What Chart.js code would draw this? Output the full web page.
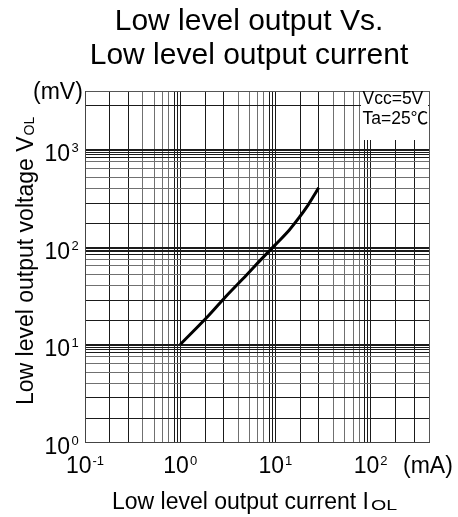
<!DOCTYPE html>
<html>
<head>
<meta charset="utf-8">
<script src="https://cdn.jsdelivr.net/npm/chart.js@4/dist/chart.umd.min.js"></script>
<style>
  html, body { margin: 0; padding: 0; background: #fff; }
  canvas { display: block; }
</style>
</head>
<body>
<canvas id="vol" width="458" height="517"></canvas>
<script>
// title and curve data
const titleLines = ['Low level output Vs.', 'Low level output current'];
const currentMA = [1, 2, 3, 5, 7, 10, 14, 18, 22, 25, 28.4];
const voltageMV = [10, 20, 31, 52, 74, 106, 150, 205, 270, 330, 406];

// axes
const xDecades = [-1, 0, 1, 2];
const yDecades = [0, 1, 2, 3];
const xMin = 0.1, xMax = 410;
const yMin = 1, yMax = 4000;

// the printed grid is not quite log spaced: position of each minor line inside a decade
const xGridFracs = [0.262, 0.457, 0.607, 0.726, 0.816, 0.879, 0.935, 0.97];
const yGridFracs = [0.245, 0.452, 0.602, 0.715, 0.81, 0.875, 0.92, 0.95, 0.97, 0.988];
const yTopFracs = [0.452];

const FONT = "'Liberation Sans', Arial, Helvetica, sans-serif";

function buildGrid(decades, fracs, lastFracs, max) {
  const out = [];
  decades.forEach((e, i) => {
    out.push({ value: Math.pow(10, e), color: '#1a1a1a' });
    const fs = (i === decades.length - 1 && lastFracs) ? lastFracs : fracs;
    fs.forEach((f, k) => {
      const v = Math.pow(10, e + f);
      if (v < max * 0.98) {
        out.push({ value: v, color: (k >= 2 && k <= 5) ? '#707070' : '#1a1a1a' });
      }
    });
  });
  out.push({ value: max, color: '#555' });
  return out;
}

const xGrid = buildGrid(xDecades, xGridFracs, null, xMax);
const yGrid = buildGrid(yDecades, yGridFracs, yTopFracs, yMax);

const textPlugin = {
  id: 'sheetText',
  beforeDatasetsDraw(chart) {
    // white box behind the conditions note
    const ctx = chart.ctx, a = chart.chartArea;
    ctx.save();
    ctx.fillStyle = '#fff';
    ctx.fillRect(361, a.top + 1, a.right - 361 - 1, 140 - a.top - 1);
    ctx.restore();
  },
  afterDraw(chart) {
    const ctx = chart.ctx;
    const xs = chart.scales.x, ys = chart.scales.y;
    ctx.save();
    ctx.fillStyle = '#000';
    ctx.textBaseline = 'alphabetic';

    // title
    ctx.textAlign = 'center';
    ctx.font = '30px ' + FONT;
    ctx.fillText(titleLines[0], 249, 30);
    ctx.fillText(titleLines[1], 249, 64);

    // x tick labels 10^n
    ctx.textAlign = 'left';
    xDecades.forEach(e => {
      const px = xs.getPixelForValue(Math.pow(10, e));
      ctx.font = '23px ' + FONT;
      const w1 = ctx.measureText('10').width;
      ctx.font = '13px ' + FONT;
      const w2 = ctx.measureText(String(e)).width;
      const start = px - (w1 + w2 + 1) / 2;
      ctx.font = '23px ' + FONT;
      ctx.fillText('10', start, 473);
      ctx.font = '13px ' + FONT;
      ctx.fillText(String(e), start + w1 + 1, 465);
    });

    // y tick labels 10^n
    yDecades.forEach(e => {
      const py = ys.getPixelForValue(Math.pow(10, e));
      ctx.font = '23px ' + FONT;
      ctx.textAlign = 'right';
      ctx.fillText('10', 70, py + 11.5);
      ctx.font = '13px ' + FONT;
      ctx.textAlign = 'left';
      ctx.fillText(String(e), 71.5, py + 2.5);
    });

    // units
    ctx.textAlign = 'left';
    ctx.font = '23px ' + FONT;
    ctx.fillText('(mV)', 33, 99);
    ctx.fillText('(mA)', 403, 473);

    // x axis title
    const xt = 'Low level output current I';
    ctx.fillText(xt, 112, 508.5);
    const xw = ctx.measureText(xt).width;
    ctx.save();
    ctx.translate(112 + xw + 2, 510);
    ctx.scale(1.4, 1);
    ctx.font = '14px ' + FONT;
    ctx.fillText('OL', 0, 0);
    ctx.restore();

    // y axis title (rotated)
    ctx.save();
    ctx.translate(33, 405);
    ctx.rotate(-Math.PI / 2);
    ctx.font = '23px ' + FONT;
    const yt = 'Low level output voltage V';
    ctx.fillText(yt, 0, 0);
    const yw = ctx.measureText(yt).width;
    ctx.font = '14px ' + FONT;
    ctx.fillText('OL', yw + 1, 0.5);
    ctx.restore();

    // test conditions
    ctx.font = "17.5px 'Liberation Sans', Arial, 'Noto Sans CJK SC', sans-serif";
    ctx.fillText('Vcc=5V', 362.5, 103.5);
    ctx.fillText('Ta=25℃', 362.5, 123.5);

    ctx.restore();
  }
};

new Chart(document.getElementById('vol'), {
  type: 'line',
  data: {
    datasets: [{
      data: currentMA.map((c, i) => ({ x: c, y: voltageMV[i] })),
      borderColor: '#000',
      borderWidth: 3,
      pointRadius: 0,
      fill: false,
      tension: 0.35
    }]
  },
  options: {
    responsive: false,
    animation: false,
    devicePixelRatio: 1,
    layout: { padding: { left: 85, right: 29, top: 91, bottom: 75 } },
    plugins: {
      legend: { display: false },
      title: { display: false },
      tooltip: { enabled: false }
    },
    scales: {
      x: {
        type: 'logarithmic',
        min: xMin,
        max: xMax,
        afterBuildTicks: s => { s.ticks = xGrid.map(g => ({ value: g.value })); },
        afterFit: s => { s.height = 0; },
        ticks: { display: false },
        grid: {
          drawTicks: false,
          color: c => (xGrid[c.index] ? xGrid[c.index].color : '#1a1a1a'),
          lineWidth: 1
        },
        border: { display: true, color: '#444', width: 1 }
      },
      y: {
        type: 'logarithmic',
        min: yMin,
        max: yMax,
        afterBuildTicks: s => { s.ticks = yGrid.map(g => ({ value: g.value })); },
        afterFit: s => { s.width = 0; },
        ticks: { display: false },
        grid: {
          drawTicks: false,
          color: c => (yGrid[c.index] ? yGrid[c.index].color : '#1a1a1a'),
          lineWidth: 1
        },
        border: { display: true, color: '#444', width: 1 }
      }
    }
  },
  plugins: [textPlugin]
});
</script>
</body>
</html>
